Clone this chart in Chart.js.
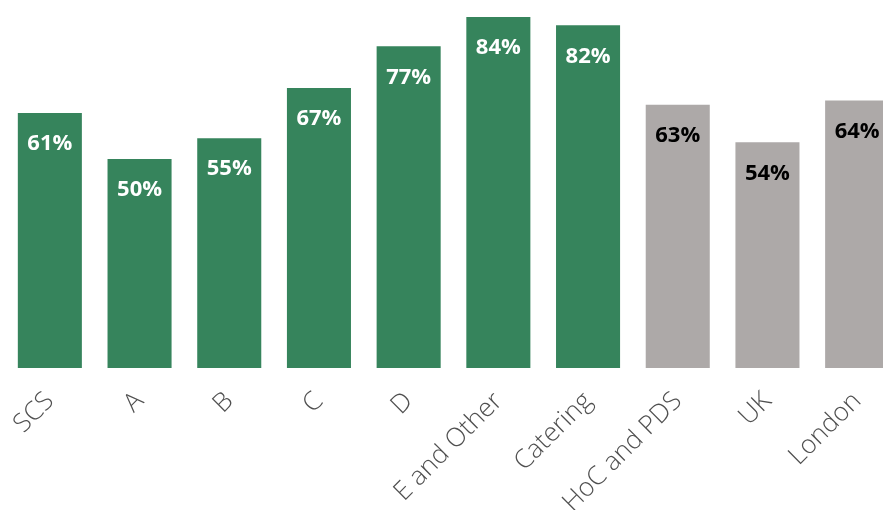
<!DOCTYPE html>
<html>
<head>
<meta charset="utf-8">
<script src="https://cdn.jsdelivr.net/npm/chart.js@4/dist/chart.umd.min.js"></script>
<style>
  html, body { margin: 0; padding: 0; background: #ffffff; overflow: hidden; }
  #wrap { position: relative; width: 902px; height: 510px; }
</style>
</head>
<body>
<div id="wrap"><canvas id="chart"></canvas></div>
<script>
// Share of respondents by group
const categories = ['SCS', 'A', 'B', 'C', 'D', 'E and Other', 'Catering', 'HoC and PDS', 'UK', 'London'];
const values = [61, 50, 55, 67, 77, 84, 82, 63, 54, 64];
const isBenchmark = [false, false, false, false, false, false, false, true, true, true];

const GREEN = '#36845c';
const GREY = '#ada9a8';

// Percentage label drawn inside the top of each bar
const barValueLabels = {
  id: 'barValueLabels',
  afterDatasetsDraw(chart) {
    const ctx = chart.ctx;
    const meta = chart.getDatasetMeta(0);
    ctx.save();
    ctx.font = 'bold 22px "Open Sans", sans-serif';
    ctx.textAlign = 'center';
    ctx.textBaseline = 'middle';
    meta.data.forEach((bar, i) => {
      ctx.fillStyle = isBenchmark[i] ? '#000000' : '#ffffff';
      ctx.fillText(values[i] + '%', bar.x, bar.y + 31);
    });
    ctx.restore();
  }
};

new Chart(document.getElementById('chart'), {
  type: 'bar',
  data: {
    labels: categories,
    datasets: [{
      data: values,
      backgroundColor: values.map((v, i) => isBenchmark[i] ? GREY : GREEN),
      borderWidth: 0,
      barPercentage: 0.714,
      categoryPercentage: 1.0
    }]
  },
  options: {
    responsive: true,
    maintainAspectRatio: false,
    animation: false,
    layout: { padding: { top: 17, left: 5, right: 0, bottom: 0 } },
    plugins: { legend: { display: false }, tooltip: { enabled: false } },
    scales: {
      x: {
        grid: { display: false, drawTicks: false },
        border: { display: false },
        ticks: {
          color: '#505050',
          font: { family: '"Open Sans", sans-serif', size: 26, weight: '300' },
          minRotation: 45,
          maxRotation: 45,
          padding: 18,
          autoSkip: false
        },
        afterFit(scale) {
          scale.height = 142;
          scale.paddingLeft = 0;
          scale.paddingRight = 0;
        }
      },
      y: {
        display: false,
        min: 0,
        max: 84
      }
    }
  },
  plugins: [barValueLabels]
});
</script>
</body>
</html>
